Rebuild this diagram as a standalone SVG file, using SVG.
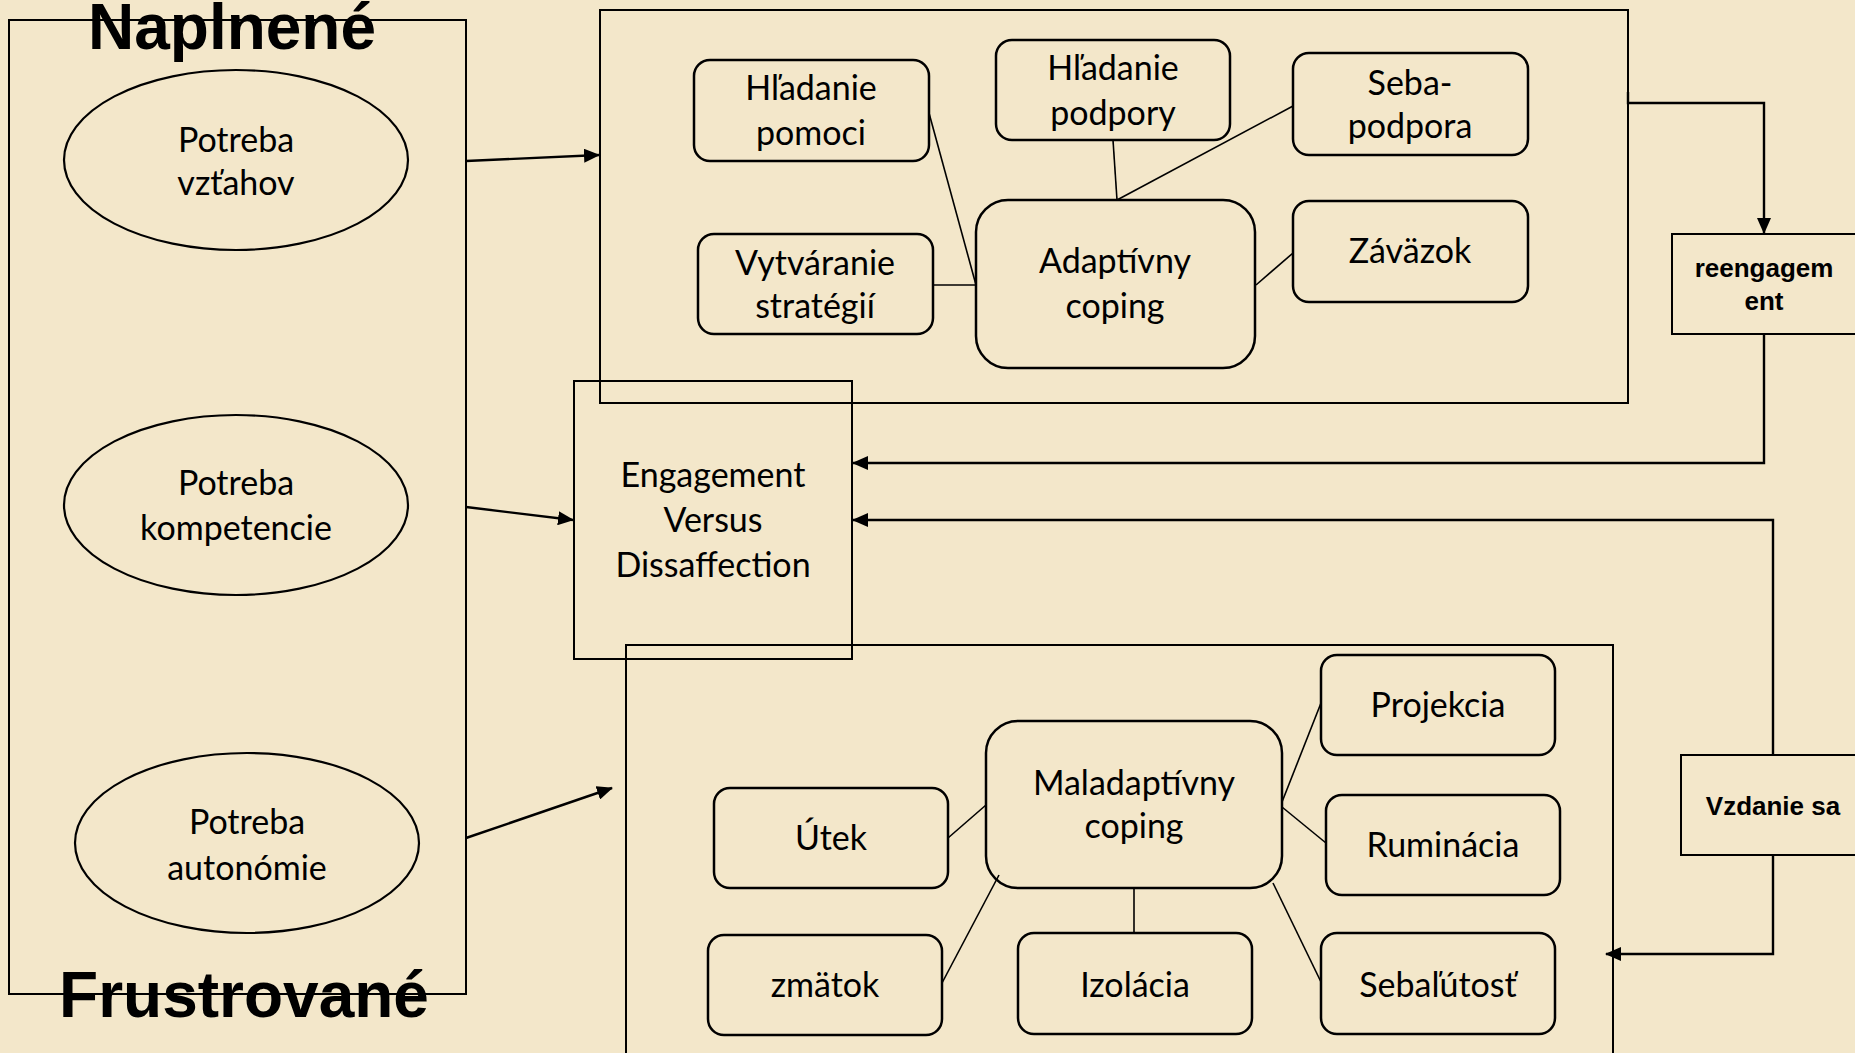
<svg xmlns="http://www.w3.org/2000/svg" width="1855" height="1053" viewBox="0 0 1855 1053">
<style>
.bg{fill:#F3E7CA}
.frame{fill:none;stroke:#000;stroke-width:2}
.node{fill:none;stroke:#000;stroke-width:2.5}
.ell{fill:none;stroke:#000;stroke-width:2.2}
.t{font-family:Lato,"Open Sans",sans-serif;font-size:34px;fill:#000;text-anchor:middle}
.b{font-family:"Liberation Sans",Arial,sans-serif;font-weight:bold;font-size:26px;fill:#000;text-anchor:middle}
.big{font-family:"Liberation Sans",Arial,sans-serif;font-weight:bold;font-size:64px;fill:#000;text-anchor:middle}
.c{fill:none;stroke:#000;stroke-width:1.6}
.a{fill:none;stroke:#000;stroke-width:2.4}
</style>
<defs>
<marker id="arr" markerUnits="userSpaceOnUse" markerWidth="16" markerHeight="14" refX="15" refY="7" orient="auto">
<path d="M0,0 L16,7 L0,14 Z" fill="#000"/>
</marker>
</defs>
<rect class="bg" x="0" y="0" width="1855" height="1053"/>

<g id="frame-left">
<rect class="frame" x="9" y="20" width="457" height="974"/>
<text class="big" x="232" y="49">Naplnené</text>
<text class="big" x="244" y="1017">Frustrované</text>
</g>
<g id="frame-adaptive"><rect class="frame" x="600" y="10" width="1028" height="393"/></g>
<g id="frame-maladaptive"><rect class="frame" x="626" y="645" width="987" height="420"/></g>

<g id="potreba-vztahov">
<ellipse class="ell" cx="236" cy="160" rx="172" ry="90"/>
<text class="t" x="236" y="152">Potreba</text>
<text class="t" x="236" y="195">vzťahov</text>
</g>
<g id="potreba-kompetencie">
<ellipse class="ell" cx="236" cy="505" rx="172" ry="90"/>
<text class="t" x="236" y="495">Potreba</text>
<text class="t" x="236" y="540">kompetencie</text>
</g>
<g id="potreba-autonomie">
<ellipse class="ell" cx="247" cy="843" rx="172" ry="90"/>
<text class="t" x="247" y="834">Potreba</text>
<text class="t" x="247" y="880">autonómie</text>
</g>

<g id="evd">
<rect class="frame" x="574" y="381" width="278" height="278"/>
<text class="t" x="713" y="487">Engagement</text>
<text class="t" x="713" y="532">Versus</text>
<text class="t" x="713" y="577">Dissaffection</text>
</g>

<g id="hladanie-pomoci">
<rect class="node" x="694" y="60" width="235" height="101" rx="16"/>
<text class="t" x="811" y="100">Hľadanie</text>
<text class="t" x="811" y="145">pomoci</text>
</g>
<g id="hladanie-podpory">
<rect class="node" x="996" y="40" width="234" height="100" rx="16"/>
<text class="t" x="1113" y="80">Hľadanie</text>
<text class="t" x="1113" y="125">podpory</text>
</g>
<g id="seba-podpora">
<rect class="node" x="1293" y="53" width="235" height="102" rx="16"/>
<text class="t" x="1410" y="95">Seba-</text>
<text class="t" x="1410" y="138">podpora</text>
</g>
<g id="vytvaranie">
<rect class="node" x="698" y="234" width="235" height="100" rx="16"/>
<text class="t" x="815" y="275">Vytváranie</text>
<text class="t" x="815" y="318">stratégií</text>
</g>
<g id="adaptivny">
<rect class="node" x="976" y="200" width="279" height="168" rx="32"/>
<text class="t" x="1115" y="273">Adaptívny</text>
<text class="t" x="1115" y="318">coping</text>
</g>
<g id="zavazok">
<rect class="node" x="1293" y="201" width="235" height="101" rx="16"/>
<text class="t" x="1410" y="263">Záväzok</text>
</g>

<g id="reengagement">
<rect class="frame" x="1672" y="234" width="200" height="100"/>
<text class="b" x="1764" y="277">reengagem</text>
<text class="b" x="1764" y="310">ent</text>
</g>
<g id="vzdanie">
<rect class="frame" x="1681" y="755" width="200" height="100"/>
<text class="b" x="1773" y="815">Vzdanie sa</text>
</g>

<g id="maladaptivny">
<rect class="node" x="986" y="721" width="296" height="167" rx="32"/>
<text class="t" x="1134" y="795">Maladaptívny</text>
<text class="t" x="1134" y="838">coping</text>
</g>
<g id="utek">
<rect class="node" x="714" y="788" width="234" height="100" rx="16"/>
<text class="t" x="831" y="850">Útek</text>
</g>
<g id="projekcia">
<rect class="node" x="1321" y="655" width="234" height="100" rx="16"/>
<text class="t" x="1438" y="717">Projekcia</text>
</g>
<g id="ruminacia">
<rect class="node" x="1326" y="795" width="234" height="100" rx="16"/>
<text class="t" x="1443" y="857">Ruminácia</text>
</g>
<g id="zmatok">
<rect class="node" x="708" y="935" width="234" height="100" rx="16"/>
<text class="t" x="825" y="997">zmätok</text>
</g>
<g id="izolacia">
<rect class="node" x="1018" y="933" width="234" height="101" rx="16"/>
<text class="t" x="1135" y="997">Izolácia</text>
</g>
<g id="sebalutost">
<rect class="node" x="1321" y="933" width="234" height="101" rx="16"/>
<text class="t" x="1438" y="997">Sebaľútosť</text>
</g>

<g id="connectors">
<line class="a" x1="466" y1="161" x2="599" y2="155" marker-end="url(#arr)"/>
<line class="a" x1="466" y1="507" x2="573" y2="520" marker-end="url(#arr)"/>
<line class="a" x1="466" y1="838" x2="612" y2="788" marker-end="url(#arr)"/>
<line class="c" x1="929" y1="113" x2="976" y2="285"/>
<line class="c" x1="933" y1="285" x2="976" y2="285"/>
<line class="c" x1="1113" y1="140" x2="1117" y2="200"/>
<line class="c" x1="1117" y1="200" x2="1293" y2="106"/>
<line class="c" x1="1256" y1="285" x2="1293" y2="253"/>
<path class="a" d="M1628,92 V103 H1764 V233" marker-end="url(#arr)"/>
<path class="a" d="M1764,334 V463 H853" marker-end="url(#arr)"/>
<path class="a" d="M1773,755 V520 H853" marker-end="url(#arr)"/>
<path class="a" d="M1773,855 V954 H1606" marker-end="url(#arr)"/>
<line class="c" x1="948" y1="838" x2="986" y2="805"/>
<line class="c" x1="942" y1="983" x2="999" y2="875"/>
<line class="c" x1="1134" y1="933" x2="1134" y2="888"/>
<line class="c" x1="1282" y1="802" x2="1321" y2="703"/>
<line class="c" x1="1282" y1="807" x2="1326" y2="843"/>
<line class="c" x1="1273" y1="883" x2="1321" y2="982"/>
</g>
</svg>
